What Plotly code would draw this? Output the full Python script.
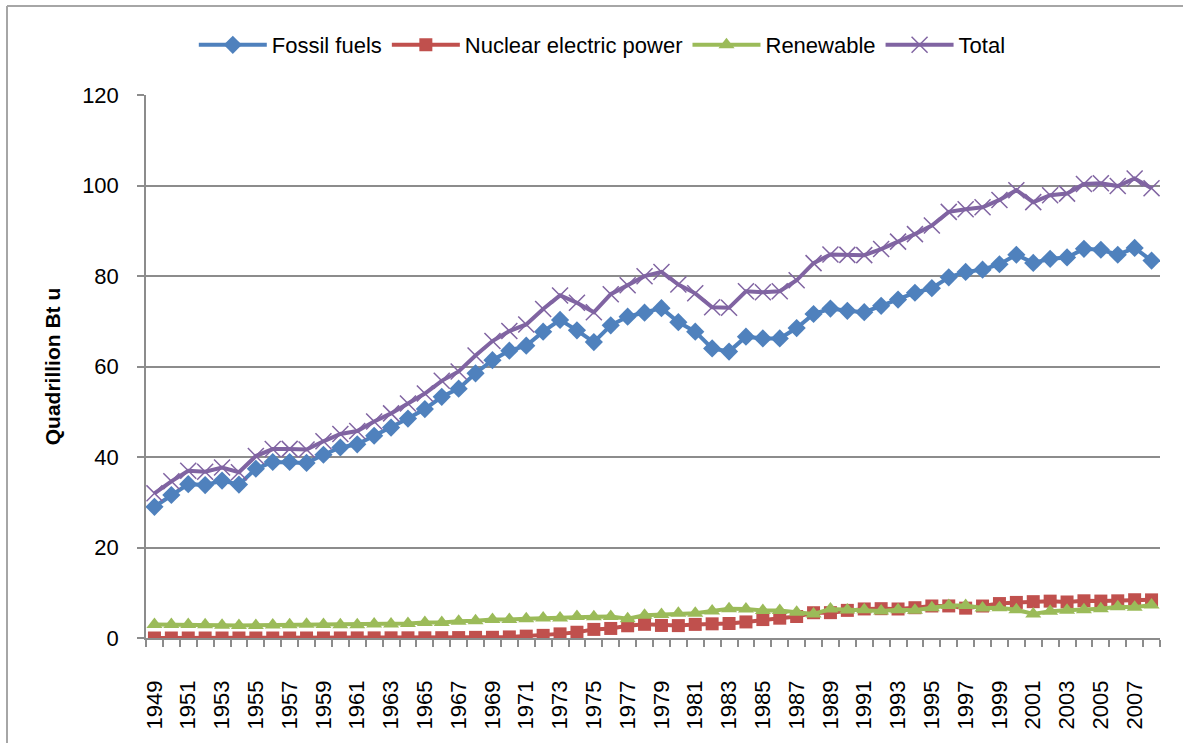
import plotly.graph_objects as go

years = list(range(1949, 2009))

fossil = [29.0, 31.6, 34.0, 33.8, 34.8, 33.9, 37.4, 38.9, 38.9, 38.7,
          40.5, 42.1, 42.8, 44.7, 46.5, 48.5, 50.6, 53.3, 55.1, 58.5,
          61.4, 63.5, 64.6, 67.7, 70.3, 68.0, 65.4, 69.1, 71.0, 71.9,
          72.9, 69.8, 67.7, 64.0, 63.3, 66.6, 66.2, 66.2, 68.5, 71.6,
          72.8, 72.3, 72.0, 73.4, 74.8, 76.3, 77.3, 79.7, 80.9, 81.4,
          82.6, 84.7, 82.9, 83.8, 84.1, 86.0, 85.8, 84.7, 86.2, 83.4]

nuclear = [0.0, 0.0, 0.0, 0.0, 0.0, 0.0, 0.0, 0.0, 0.0, 0.002,
           0.002, 0.006, 0.02, 0.026, 0.038, 0.04, 0.043, 0.064, 0.088, 0.142,
           0.154, 0.239, 0.413, 0.584, 0.910, 1.272, 1.900, 2.111, 2.702, 3.024,
           2.776, 2.739, 3.008, 3.131, 3.203, 3.553, 4.076, 4.380, 4.754, 5.587,
           5.602, 6.104, 6.422, 6.479, 6.410, 6.694, 7.075, 7.087, 6.597, 7.068,
           7.610, 7.862, 8.029, 8.145, 7.959, 8.222, 8.161, 8.215, 8.455, 8.427]

renewable = [2.974, 2.978, 2.958, 2.940, 2.831, 2.754, 2.784, 2.890, 2.935, 3.022,
             2.961, 2.929, 2.943, 3.111, 3.102, 3.187, 3.398, 3.446, 3.718, 3.800,
             4.108, 4.076, 4.268, 4.398, 4.433, 4.769, 4.723, 4.768, 4.249, 5.039,
             5.166, 5.494, 5.470, 5.985, 6.488, 6.430, 6.084, 6.082, 5.664, 5.317,
             6.392, 6.206, 6.238, 5.993, 6.261, 6.155, 6.703, 7.167, 7.180, 6.657,
             6.681, 6.262, 5.318, 5.899, 6.150, 6.261, 6.444, 6.922, 6.800, 7.316]

total = [31.98, 34.62, 36.97, 36.75, 37.66, 36.64, 40.21, 41.75, 41.79, 41.65,
         43.47, 45.09, 45.74, 47.83, 49.64, 51.82, 54.02, 56.83, 58.91, 62.42,
         65.62, 67.84, 69.29, 72.70, 75.71, 74.08, 71.97, 75.98, 77.96, 79.96,
         80.90, 78.12, 76.17, 73.10, 72.97, 76.63, 76.39, 76.63, 79.05, 82.84,
         84.76, 84.67, 84.61, 85.96, 87.60, 89.26, 91.17, 94.17, 94.76, 95.18,
         96.81, 98.97, 96.32, 97.86, 98.21, 100.35, 100.48, 99.87, 101.55, 99.40]

tick_years = list(range(1949, 2008, 2))
tick_labels = [str(y) for y in tick_years]
y_ticks = [0, 20, 40, 60, 80, 100, 120]

FONT = "Liberation Sans"
GRID = "#8c8c8c"

fig = go.Figure()
fig.add_trace(go.Scatter(x=years, y=fossil, name="Fossil fuels", mode="lines+markers",
                         line=dict(color="#4F81BD", width=4),
                         marker=dict(symbol="diamond", size=14, color="#4F81BD")))
fig.add_trace(go.Scatter(x=years, y=nuclear, name="Nuclear electric power", mode="lines+markers",
                         line=dict(color="#C0504D", width=4),
                         marker=dict(symbol="square", size=13, color="#C0504D")))
fig.add_trace(go.Scatter(x=years, y=renewable, name="Renewable", mode="lines+markers",
                         line=dict(color="#9BBB59", width=4),
                         marker=dict(symbol="triangle-up", size=14, color="#9BBB59")))
fig.add_trace(go.Scatter(x=years, y=total, name="Total", mode="lines+markers",
                         line=dict(color="#8064A2", width=4),
                         marker=dict(symbol="x-thin-open", size=16,
                                     line=dict(color="#8064A2", width=1.5))))

# outer chart border (top and left edges); coordinates in page pixels
for (x0, y0, x1, y1) in [(7, 6, 1183, 6), (7, 6, 7, 743)]:
    fig.add_shape(type="line", xref="paper", yref="paper",
                  x0=(x0 - 146) / 1014, x1=(x1 - 146) / 1014,
                  y0=(638 - y0) / 543, y1=(638 - y1) / 543,
                  line=dict(color="#a6a6a6", width=2))

fig.update_layout(
    width=1183, height=743,
    margin=dict(l=146, r=23, t=95, b=105),
    paper_bgcolor="white", plot_bgcolor="white",
    font=dict(family=FONT, size=22, color="black"),
    showlegend=True,
    legend=dict(orientation="h", x=0.45, xanchor="center", y=1.092, yanchor="middle",
                font=dict(family=FONT, size=22), itemwidth=68, tracegroupgap=0),
    xaxis=dict(range=[1948.5, 2008.5], tickmode="array", tickvals=tick_years,
               ticktext=tick_labels, tickangle=-90, ticks="", showgrid=False,
               showline=True, linecolor=GRID, linewidth=1.5, zeroline=False,
               automargin=False,
               ticklabelstandoff=32, tickfont=dict(size=22),
               minor=dict(tick0=1948.5, dtick=1, ticks="outside", ticklen=7,
                          tickcolor=GRID, tickwidth=1.5, showgrid=False)),
    yaxis=dict(range=[0, 120], tickmode="array", tickvals=y_ticks,
               ticks="outside", ticklen=7, tickcolor=GRID, tickwidth=1.5,
               showgrid=True, gridcolor=GRID, gridwidth=1.5,
               showline=True, linecolor=GRID, linewidth=1.5, zeroline=False,
               automargin=False,
               ticklabelstandoff=14, tickfont=dict(size=22),
               title=dict(text="<b>Quadrillion Bt u</b>", standoff=16,
                          font=dict(size=21))),
)

fig.write_html("out.html", config={"displayModeBar": False},
               post_script="document.body.style.margin='0';"
                           "document.body.style.overflow='hidden';")
